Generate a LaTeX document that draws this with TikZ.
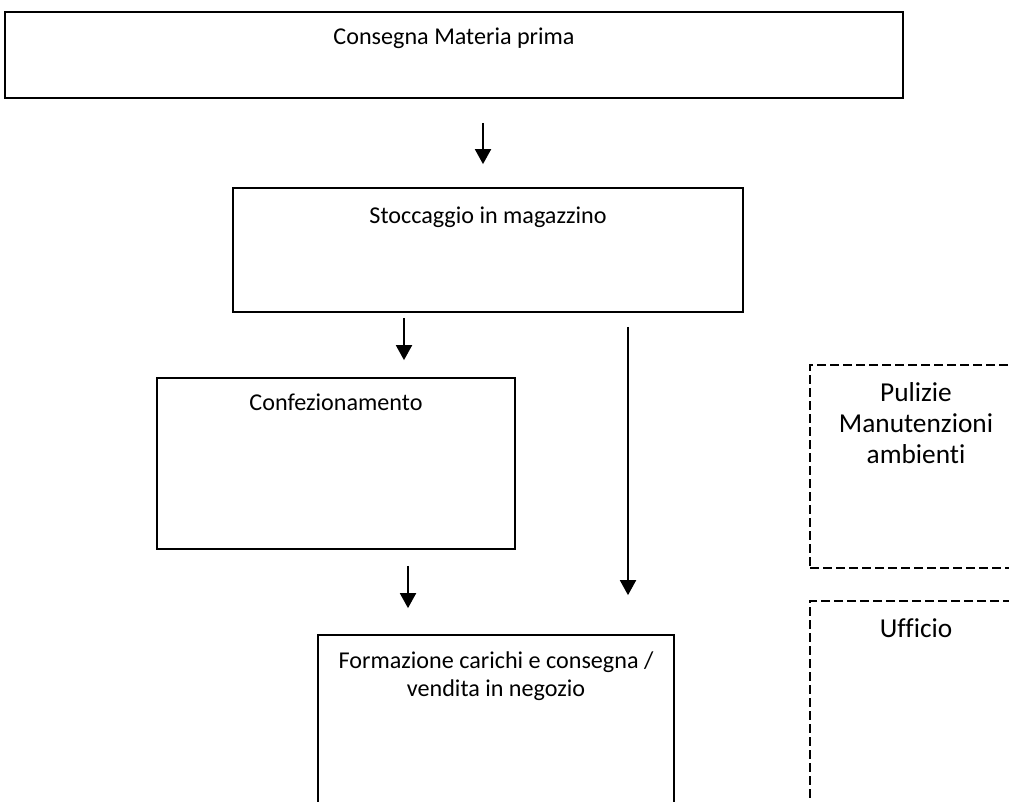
\documentclass[tikz,border=0pt]{standalone}
\usepackage{fontspec}
\setmainfont{Carlito}[Ligatures=NoCommon]
\usetikzlibrary{arrows.meta}

\begin{document}
\begin{tikzpicture}[
        x=0.75pt, y=-0.75pt,
        every node/.style={font=\fontsize{18.1}{21}\selectfont},
        box/.style={draw, line width=1.3pt, rectangle, inner sep=0pt},
        area/.style={draw, line width=1.1pt, dash pattern=on 6.75pt off 3pt, rectangle, inner sep=0pt},
        txt/.style={anchor=base, align=center, yshift=#1},
        bigtxt/.style={txt=#1, font=\fontsize{20.5}{23.25}\selectfont},
        arr/.style={line width=1.4pt, -{Triangle[length=11.25pt, width=12pt]}}]

        \useasboundingbox (0,0) rectangle (1009,801);
        \clip (0,0) rectangle (1009,801);

        \node[box, minimum width=673.5pt, minimum height=64.5pt,
            label={[txt=-24.75pt]north:Consegna Materia prima}] (cons) at (454,55) {};
        \node[box, minimum width=382.5pt, minimum height=93pt,
            label={[txt=-27pt]north:Stoccaggio in magazzino}] (stocc) at (488,250) {};
        \node[box, minimum width=268.5pt, minimum height=128.25pt,
            label={[txt=-24.75pt]north:Confezionamento}] (conf) at (336,463.5) {};
        \node[box, minimum width=267pt, minimum height=157.5pt,
            label={[txt=-46.5pt]north:Formazione carichi e consegna /\\vendita in negozio}] (form) at (496,740) {};
        \node[area, minimum width=159pt, minimum height=152.25pt,
            label={[bigtxt=-74.25pt]north:Pulizie\\Manutenzioni\\ambienti}] (pul) at (916,466.5) {};
        \node[area, minimum width=159pt, minimum height=165pt,
            label={[bigtxt=-27.75pt]north:Ufficio}] (uff) at (916,711) {};

        \coordinate (c1) at (483,0);
        \coordinate (c2) at (404,0);
        \coordinate (c3) at (628,0);
        \coordinate (c4) at (408,0);

        \draw[arr, shorten <=18pt, shorten >=17.25pt] (cons.south -| c1) -- (stocc.north -| c1);
        \draw[arr, shorten <=3.75pt, shorten >=12.75pt] (stocc.south -| c2) -- (conf.north -| c2);
        \draw[arr, shorten <=10.5pt, shorten >=29.25pt] (stocc.south -| c3) -- (form.north -| c3);
        \draw[arr, shorten <=12pt, shorten >=19.5pt] (conf.south -| c4) -- (form.north -| c4);

    \end{tikzpicture}
\end{document}
